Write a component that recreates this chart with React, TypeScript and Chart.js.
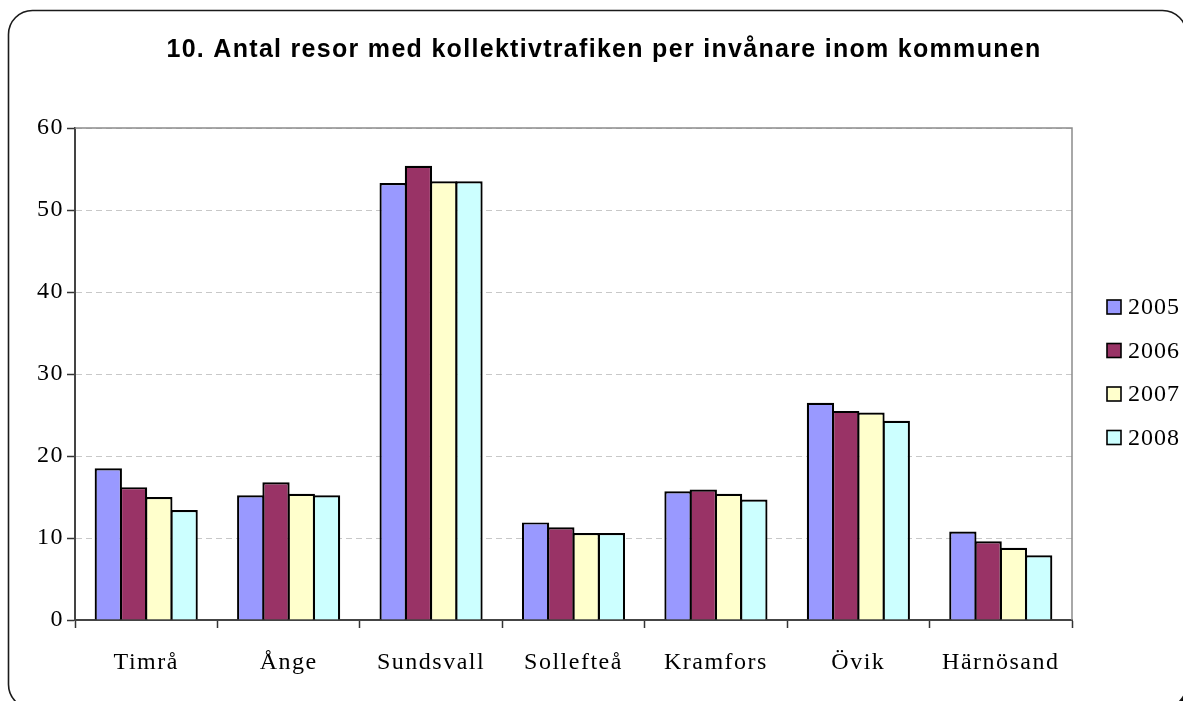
import React, { useEffect, useRef } from "react";
import { Chart, registerables } from "chart.js";

Chart.register(...registerables);

const categories = ["Timrå", "Ånge", "Sundsvall", "Sollefteå", "Kramfors", "Övik", "Härnösand"];
const seriesLabels = ["2005", "2006", "2007", "2008"];
const values2005 = [18.5, 15.2, 53.3, 11.9, 15.7, 26.5, 10.8];
const values2006 = [16.2, 16.8, 55.4, 11.3, 15.9, 25.5, 9.6];
const values2007 = [15.0, 15.4, 53.5, 10.6, 15.4, 25.3, 8.8];
const values2008 = [13.4, 15.2, 53.5, 10.6, 14.7, 24.3, 7.9];
const seriesColors = ["#9999FF", "#993366", "#FFFFCC", "#CCFFFF"];
const titleText = "10. Antal resor med kollektivtrafiken per invånare inom kommunen";
const yMin = 0;
const yMax = 60;
const yStep = 10;

const SERIF = '"Liberation Serif", "Times New Roman", serif';
const SANS = '"Liberation Sans", Arial, sans-serif';

function roundedPath(ctx: CanvasRenderingContext2D, x: number, y: number, w: number, h: number, r: number) {
  ctx.beginPath();
  ctx.moveTo(x + r, y);
  ctx.lineTo(x + w - r, y);
  ctx.arcTo(x + w, y, x + w, y + r, r);
  ctx.lineTo(x + w, y + h - r);
  ctx.arcTo(x + w, y + h, x + w - r, y + h, r);
  ctx.lineTo(x + r, y + h);
  ctx.arcTo(x, y + h, x, y + h - r, r);
  ctx.lineTo(x, y + r);
  ctx.arcTo(x, y, x + r, y, r);
  ctx.closePath();
}

const decorPlugin = {
  id: "decor",
  beforeDraw(chart: any) {
    const ctx: CanvasRenderingContext2D = chart.ctx;
    ctx.save();
    ctx.fillStyle = "#ffffff";
    ctx.fillRect(0, 0, chart.width, chart.height);
    roundedPath(ctx, 11, 13, 1178, 698, 24);
    ctx.fillStyle = "#000000";
    ctx.fill();
    roundedPath(ctx, 8.5, 10.5, 1178, 698, 24);
    ctx.fillStyle = "#ffffff";
    ctx.fill();
    ctx.lineWidth = 1.6;
    ctx.strokeStyle = "#1a1a1a";
    ctx.stroke();
    ctx.restore();
    (ctx as any).letterSpacing = "1.5px";
  },
  beforeDatasetsDraw(chart: any) {
    const ctx: CanvasRenderingContext2D = chart.ctx;
    const a = chart.chartArea;
    ctx.save();
    ctx.strokeStyle = "#8c8c8c";
    ctx.lineWidth = 1.5;
    ctx.beginPath();
    ctx.moveTo(a.left, a.top);
    ctx.lineTo(a.right, a.top);
    ctx.lineTo(a.right, a.bottom);
    ctx.stroke();
    ctx.restore();
  },
  afterDraw(chart: any) {
    const ctx: CanvasRenderingContext2D = chart.ctx;
    ctx.save();
    // title
    (ctx as any).letterSpacing = "1.3px";
    ctx.font = `bold 25px ${SANS}`;
    ctx.fillStyle = "#000000";
    ctx.textAlign = "center";
    ctx.textBaseline = "alphabetic";
    ctx.fillText(titleText, 604, 57);
    // legend
    (ctx as any).letterSpacing = "1px";
    ctx.font = `24px ${SERIF}`;
    ctx.textAlign = "left";
    ctx.textBaseline = "middle";
    chart.data.datasets.forEach((ds: any, i: number) => {
      const cy = 307 + i * 43.5;
      ctx.fillStyle = ds.backgroundColor;
      ctx.fillRect(1107, cy - 7, 14, 14);
      ctx.lineWidth = 1.6;
      ctx.strokeStyle = "#000000";
      ctx.strokeRect(1107, cy - 7, 14, 14);
      ctx.fillStyle = "#000000";
      ctx.fillText(ds.label, 1128, cy + 1);
    });
    ctx.restore();
  },
};

export default function App() {
  const canvasRef = useRef<HTMLCanvasElement | null>(null);

  useEffect(() => {
    if (!canvasRef.current) return;
    const seriesValues = [values2005, values2006, values2007, values2008];
    const chart = new Chart(canvasRef.current, {
      type: "bar",
      data: {
        labels: categories,
        datasets: seriesLabels.map((label, i) => ({
          label,
          data: seriesValues[i],
          backgroundColor: seriesColors[i],
          borderColor: "#000000",
          borderWidth: 2.2,
          borderSkipped: "start",
          categoryPercentage: 0.71,
          barPercentage: 1.08,
        })),
      },
      options: {
        animation: false,
        responsive: true,
        maintainAspectRatio: false,
        layout: { padding: { left: 0, right: 111, top: 128, bottom: 0 } },
        plugins: {
          legend: { display: false },
          title: { display: false },
          tooltip: { enabled: false },
        },
        scales: {
          x: {
            grid: {
              display: true,
              drawOnChartArea: false,
              drawTicks: true,
              tickLength: 8,
              tickColor: "#333333",
              tickWidth: 1.5,
              offset: true,
            },
            border: { display: true, color: "#444444", width: 2 },
            ticks: {
              color: "#000000",
              padding: 20,
              font: { family: SERIF, size: 24 },
              maxRotation: 0,
              autoSkip: false,
            },
            afterFit: (scale: any) => {
              scale.height = 81;
            },
          },
          y: {
            min: yMin,
            max: yMax,
            grid: {
              color: "#c8c8c8",
              lineWidth: 1,
              drawTicks: true,
              tickLength: 8,
              tickColor: "#333333",
              tickWidth: 1.5,
            },
            border: { display: true, color: "#444444", width: 2, dash: [6, 4] },
            ticks: {
              stepSize: yStep,
              color: "#000000",
              padding: 3,
              font: { family: SERIF, size: 24 },
            },
            afterFit: (scale: any) => {
              scale.width = 75;
            },
          },
        },
      },
      plugins: [decorPlugin],
    });
    return () => chart.destroy();
  }, []);

  return (
    <div style={{ position: "absolute", left: 0, top: 0, width: 1183, height: 701 }}>
      <canvas ref={canvasRef} />
    </div>
  );
}
